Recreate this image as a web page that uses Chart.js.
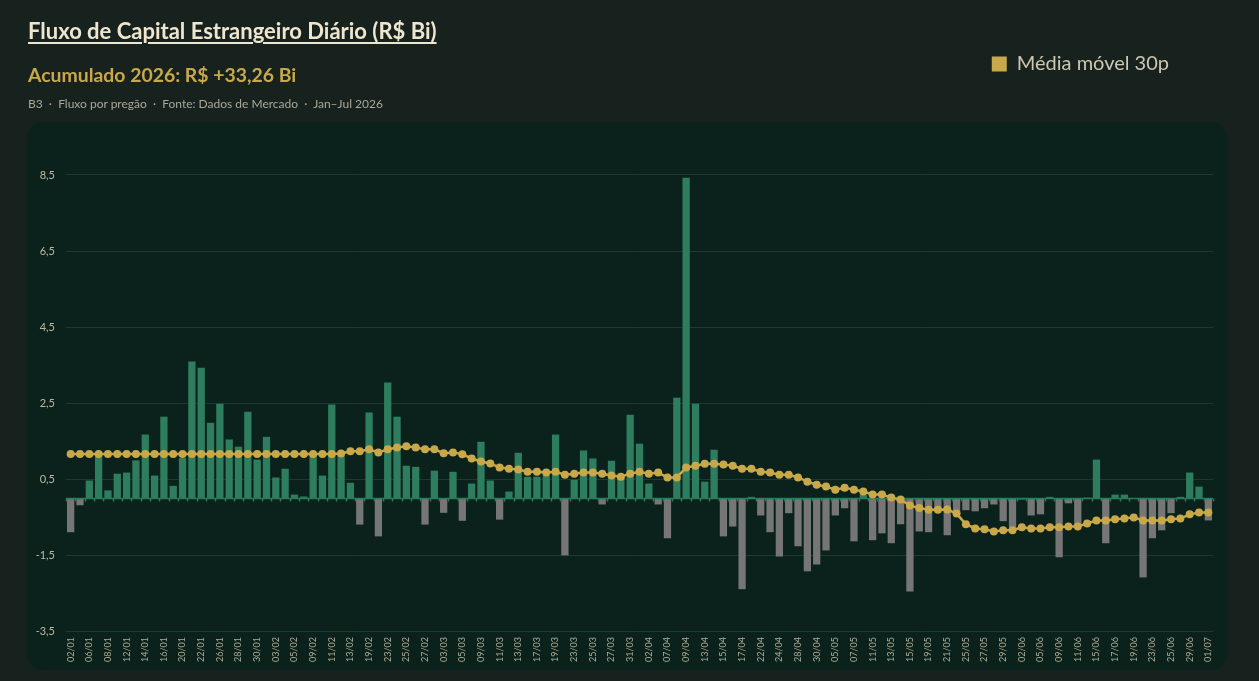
<!DOCTYPE html>
<html>
<head>
<meta charset="utf-8">
<script src="https://cdn.jsdelivr.net/npm/chart.js@4.4.1/dist/chart.umd.min.js"></script>
<style>
  html, body { margin:0; padding:0; background:#17221f; width:1259px; height:681px; overflow:hidden; }
  #wrap { position:relative; width:1259px; height:681px; font-family: Lato, "Noto Sans", sans-serif; }
  #c { position:absolute; left:0; top:0; }
  .t1 { position:absolute; left:28px; top:17px; font-weight:700; font-size:22px; color:#efe6d0; text-decoration:underline; text-underline-offset:3px; text-decoration-thickness:2px; white-space:nowrap; }
  .t2 { position:absolute; left:28px; top:63px; font-weight:700; font-size:19.4px; color:#c9a84a; white-space:nowrap; }
  .t3 { position:absolute; left:28px; top:96px; font-size:12px; color:#a9a898; white-space:nowrap; }
</style>
</head>
<body>
<div id="wrap">
  <canvas id="c" width="1259" height="681"></canvas>
  <div class="t1">Fluxo de Capital Estrangeiro Diário (R$ Bi)</div>
  <div class="t2">Acumulado 2026: R$ +33,26 Bi</div>
  <div class="t3">B3 &nbsp;·&nbsp; Fluxo por pregão &nbsp;·&nbsp; Fonte: Dados de Mercado &nbsp;·&nbsp; Jan–Jul 2026</div>
</div>
<script>
const dates = [
  "02/01","05/01","06/01","07/01","08/01","09/01","12/01","13/01","14/01","15/01","16/01","19/01","20/01","21/01","22/01","23/01","26/01","27/01","28/01","29/01","30/01",
  "02/02","03/02","04/02","05/02","06/02","09/02","10/02","11/02","12/02","13/02","18/02","19/02","20/02","23/02","24/02","25/02","26/02","27/02",
  "02/03","03/03","04/03","05/03","06/03","09/03","10/03","11/03","12/03","13/03","16/03","17/03","18/03","19/03","20/03","23/03","24/03","25/03","26/03","27/03","30/03","31/03",
  "01/04","02/04","06/04","07/04","08/04","09/04","10/04","13/04","14/04","15/04","16/04","17/04","20/04","22/04","23/04","24/04","27/04","28/04","29/04","30/04",
  "04/05","05/05","06/05","07/05","08/05","11/05","12/05","13/05","14/05","15/05","18/05","19/05","20/05","21/05","22/05","25/05","26/05","27/05","28/05","29/05",
  "01/06","02/06","03/06","05/06","08/06","09/06","10/06","11/06","12/06","15/06","16/06","17/06","18/06","19/06","22/06","23/06","24/06","25/06","26/06","29/06","30/06",
  "01/07"
];

const fluxo = [
  -0.90,-0.19,0.46,1.12,0.20,0.64,0.67,0.99,1.67,0.59,2.14,0.32,1.05,3.59,3.43,1.98,2.48,1.54,1.35,2.27,1.01,
  1.61,0.54,0.77,0.09,0.04,1.12,0.59,2.46,1.12,0.40,-0.70,2.25,-1.01,3.04,2.14,0.85,0.82,-0.70,
  0.72,-0.39,0.69,-0.60,0.38,1.48,0.46,-0.57,0.17,1.19,0.56,0.56,0.60,1.67,-1.51,0.48,1.25,1.04,-0.17,0.98,0.55,2.19,
  1.43,0.38,-0.17,-1.06,2.64,8.43,2.48,0.43,1.27,-1.01,-0.75,-2.40,0.03,-0.46,-0.90,-1.54,-0.40,-1.27,-1.93,-1.75,
  -1.38,-0.46,-0.27,-1.14,0.09,-1.11,-0.93,-1.19,-0.69,-2.46,-0.88,-0.90,-0.30,-0.98,-0.40,-0.32,-0.35,-0.27,-0.17,-0.61,
  -0.78,-0.04,-0.46,-0.43,0.03,-1.56,-0.14,-0.75,0.01,1.01,-1.19,0.09,0.09,-0.02,-2.09,-1.06,-0.85,-0.40,0.03,0.67,0.30,
  -0.59
];

const mediaMovel = [
  1.16,1.16,1.16,1.16,1.16,1.16,1.16,1.16,1.16,1.16,1.16,1.16,1.16,1.16,1.16,1.16,1.16,1.16,1.16,1.16,1.16,
  1.16,1.16,1.16,1.16,1.16,1.16,1.16,1.16,1.17,1.23,1.23,1.28,1.20,1.28,1.33,1.36,1.33,1.28,
  1.28,1.18,1.20,1.15,1.04,0.96,0.91,0.80,0.77,0.75,0.69,0.69,0.67,0.69,0.61,0.64,0.67,0.67,0.64,0.59,0.56,0.64,
  0.69,0.64,0.67,0.54,0.54,0.80,0.85,0.90,0.90,0.88,0.85,0.77,0.77,0.69,0.67,0.61,0.61,0.54,0.43,0.35,
  0.30,0.22,0.27,0.22,0.17,0.09,0.09,0.01,-0.04,-0.20,-0.26,-0.31,-0.31,-0.30,-0.41,-0.69,-0.80,-0.82,-0.88,-0.85,
  -0.85,-0.77,-0.80,-0.80,-0.77,-0.77,-0.75,-0.75,-0.67,-0.59,-0.59,-0.56,-0.54,-0.51,-0.59,-0.59,-0.59,-0.56,-0.54,-0.43,-0.38,
  -0.38
];

const yTicks = [-3.5, -1.5, 0.5, 2.5, 4.5, 6.5, 8.5];
const legendLabel = "Média móvel 30p";

const GREEN = "#2e7d5e", GREY = "#767676", GOLD = "#c9a84a";

const panelBg = {
  id: "panelBg",
  beforeDraw(chart) {
    const ctx = chart.ctx;
    ctx.save();
    ctx.fillStyle = "#0b221c";
    ctx.beginPath();
    ctx.roundRect(27, 122, 1200, 548, 16);
    ctx.fill();
    ctx.restore();
  }
};

const zeroLine = {
  id: "zeroLine",
  afterDatasetDraw(chart, args) {
    if (args.index !== 0) return;
    const { ctx, chartArea, scales } = chart;
    const y0 = Math.round(scales.y.getPixelForValue(0)) + 0.5;
    ctx.save();
    ctx.strokeStyle = "#2a7a5e";
    ctx.lineWidth = 1.5;
    ctx.beginPath();
    ctx.moveTo(chartArea.left, y0);
    ctx.lineTo(chartArea.right, y0);
    const n = dates.length;
    const w = (chartArea.right - chartArea.left) / n;
    for (let i = 0; i <= n; i++) {
      const x = Math.round(chartArea.left + i * w) + 0.5;
      ctx.moveTo(x, y0);
      ctx.lineTo(x, y0 + 3);
    }
    ctx.stroke();
    ctx.restore();
  }
};

const legendSpace = {
  id: "legendSpace",
  beforeInit(chart) {
    const orig = chart.legend.fit;
    chart.legend.fit = function () { orig.call(this); this.height += 53; };
  },
  afterLayout(chart) {
    chart.legend.left -= 34;
    chart.legend.right -= 34;
  }
};

new Chart(document.getElementById("c"), {
  data: {
    labels: dates,
    datasets: [
      {
        type: "bar",
        label: "Fluxo diário",
        data: fluxo,
        backgroundColor: fluxo.map(v => v >= 0 ? GREEN : GREY),
        borderWidth: 0,
        categoryPercentage: 1.0,
        barPercentage: 0.78,
        order: 2
      },
      {
        type: "line",
        label: legendLabel,
        data: mediaMovel,
        borderColor: GOLD,
        backgroundColor: GOLD,
        borderWidth: 2.5,
        pointRadius: 4,
        pointBackgroundColor: GOLD,
        pointBorderWidth: 0,
        tension: 0,
        order: 1
      }
    ]
  },
  options: {
    responsive: false,
    animation: false,
    devicePixelRatio: 1,
    layout: { padding: { left: 28, right: 46, top: 44, bottom: 0 } },
    plugins: {
      title: { display: false },
      tooltip: { enabled: false },
      legend: {
        display: true,
        position: "top",
        align: "end",
        labels: {
          boxWidth: 15,
          boxHeight: 15,
          padding: 10,
          color: "#cdc6b0",
          font: { family: "Lato", size: 20 },
          generateLabels: () => [{ text: legendLabel, fillStyle: GOLD, strokeStyle: GOLD, lineWidth: 0, datasetIndex: 1, hidden: false, fontColor: "#cdc6b0" }]
        }
      }
    },
    scales: {
      x: {
        type: "category",
        offset: true,
        grid: { display: false, drawTicks: false },
        border: { display: false },
        afterFit(scale) { scale.height = 50; },
        ticks: {
          autoSkip: false,
          minRotation: 90,
          maxRotation: 90,
          padding: 6,
          color: "#b0ad94",
          font: { family: "Lato", size: 9 },
          callback(v, i) { return i % 2 === 0 ? dates[i] : ""; }
        }
      },
      y: {
        type: "linear",
        min: -3.5,
        max: 9.5,
        afterBuildTicks(scale) { scale.ticks = yTicks.map(v => ({ value: v })); },
        afterFit(scale) { scale.width = 38; },
        grid: { color: "#1c3a30", lineWidth: 1, drawTicks: false },
        border: { display: false },
        ticks: {
          padding: 11,
          color: "#beb9a0",
          font: { family: "Lato", size: 11 },
          callback(v) { return v.toFixed(1).replace(".", ","); }
        }
      }
    }
  },
  plugins: [panelBg, zeroLine, legendSpace]
});
</script>
</body>
</html>
